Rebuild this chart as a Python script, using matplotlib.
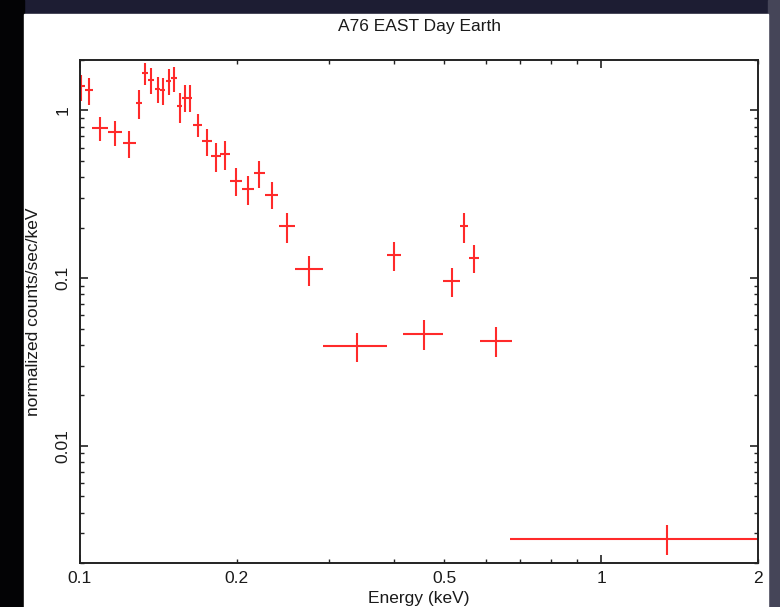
import matplotlib
matplotlib.use("Agg")
import matplotlib.pyplot as plt
from matplotlib.patches import Rectangle

plt.rcParams['font.family'] = ['Liberation Sans', 'DejaVu Sans']

# XSPEC-style spectrum: bin centre (keV), half bin width (keV), rate, 1-sigma error
energy = [0.1004, 0.1039, 0.1094, 0.1169, 0.1244, 0.1296, 0.1332, 0.1367,
          0.1409, 0.1442, 0.1480, 0.1515, 0.1554, 0.1588, 0.1623, 0.1683,
          0.1753, 0.1826, 0.1897, 0.1994, 0.2099, 0.2210, 0.2331, 0.2497,
          0.2755, 0.3397, 0.4009, 0.4570, 0.5163, 0.5458, 0.5696, 0.6290,
          1.335]
energy_err = [0.0017, 0.0018, 0.0038, 0.0035, 0.0037, 0.0017, 0.0017, 0.0017,
              0.0017, 0.0017, 0.0017, 0.0017, 0.0017, 0.0017, 0.0017, 0.0032,
              0.0038, 0.0039, 0.0041, 0.0051, 0.0054, 0.0057, 0.0065, 0.0091,
              0.0165, 0.0477, 0.0129, 0.0405, 0.0188, 0.0094, 0.0122, 0.0444,
              0.665]
rate = [1.39, 1.32, 0.782, 0.742, 0.638, 1.105, 1.670, 1.520,
        1.348, 1.320, 1.504, 1.552, 1.059, 1.195, 1.195, 0.824,
        0.655, 0.537, 0.551, 0.382, 0.340, 0.422, 0.315, 0.204,
        0.1128, 0.0394, 0.1376, 0.0466, 0.0959, 0.204, 0.1327, 0.0424,
        0.00279]
rate_err = [0.245, 0.24, 0.127, 0.124, 0.12, 0.22, 0.26, 0.26,
            0.235, 0.245, 0.265, 0.255, 0.213, 0.222, 0.222, 0.134,
            0.119, 0.107, 0.107, 0.072, 0.067, 0.075, 0.057, 0.041,
            0.023, 0.0079, 0.0275, 0.0095, 0.0186, 0.041, 0.026, 0.0085,
            0.00056]

x_minor = [0.2, 0.3, 0.4, 0.5, 0.6, 0.7, 0.8, 0.9, 2]
x_minor_labels = ['0.2', '', '', '0.5', '', '', '', '', '2']
y_major = [0.01, 0.1, 1]
y_major_labels = ['0.01', '0.1', '1']

W, H = 780, 607
fig = plt.figure(figsize=(W / 100, H / 100), dpi=100, facecolor='#1d1d33')

# dark backdrop around the white plot panel
fig.patches.append(Rectangle((0, 0), 24 / W, 1, transform=fig.transFigure,
                             color='#030305', zorder=0))
fig.patches.append(Rectangle((768 / W, 0), 12 / W, 1, transform=fig.transFigure,
                             color='#454558', zorder=0))
fig.patches.append(Rectangle((24 / W, 0), 744 / W, 1 - 14 / H,
                             transform=fig.transFigure, color='white', zorder=1))

ax = fig.add_axes([80 / W, 1 - 563 / H, 678 / W, 503 / H])
ax.set_zorder(2)

ax.errorbar(energy, rate, xerr=energy_err, yerr=rate_err, fmt='none',
            ecolor='#ff2a2a', elinewidth=1.5, capsize=0)

ax.set_xscale('log')
ax.set_yscale('log')
ax.set_xlim(0.1, 2)
ax.set_ylim(0.002, 2)

ax.set_xticks([0.1, 1], ['0.1', '1'])
ax.set_xticks(x_minor, x_minor_labels, minor=True)
ax.set_yticks(y_major, y_major_labels)
ax.set_yticks([k * d for d in (0.001, 0.01, 0.1, 1) for k in range(2, 10)
               if k * d <= 2], minor=True)
ax.yaxis.set_minor_formatter(plt.NullFormatter())

txt = '#1a1a1a'
fs = 12.5
ax.tick_params(which='both', direction='in', top=True, right=True,
               colors='#222222', labelcolor=txt, labelsize=fs)
ax.tick_params(which='major', length=6, width=1.2)
ax.tick_params(which='minor', length=3, width=1.0)
ax.tick_params(axis='x', which='both', pad=6)
ax.tick_params(axis='y', which='both', pad=7)
for lab in ax.get_yticklabels():
    lab.set_rotation(90)
    lab.set_va('center')

for s in ax.spines.values():
    s.set_linewidth(1.4)
    s.set_color('#222222')

ax.set_xlabel('Energy (keV)', fontsize=fs, color=txt, labelpad=3)
ax.set_ylabel('normalized counts/sec/keV', fontsize=fs, color=txt, labelpad=10)
fig.text(419 / W, 1 - 27 / H, 'A76 EAST Day Earth', ha='center', va='center',
         fontsize=fs, color=txt)

fig.savefig('out.png', dpi=100, facecolor=fig.get_facecolor())
